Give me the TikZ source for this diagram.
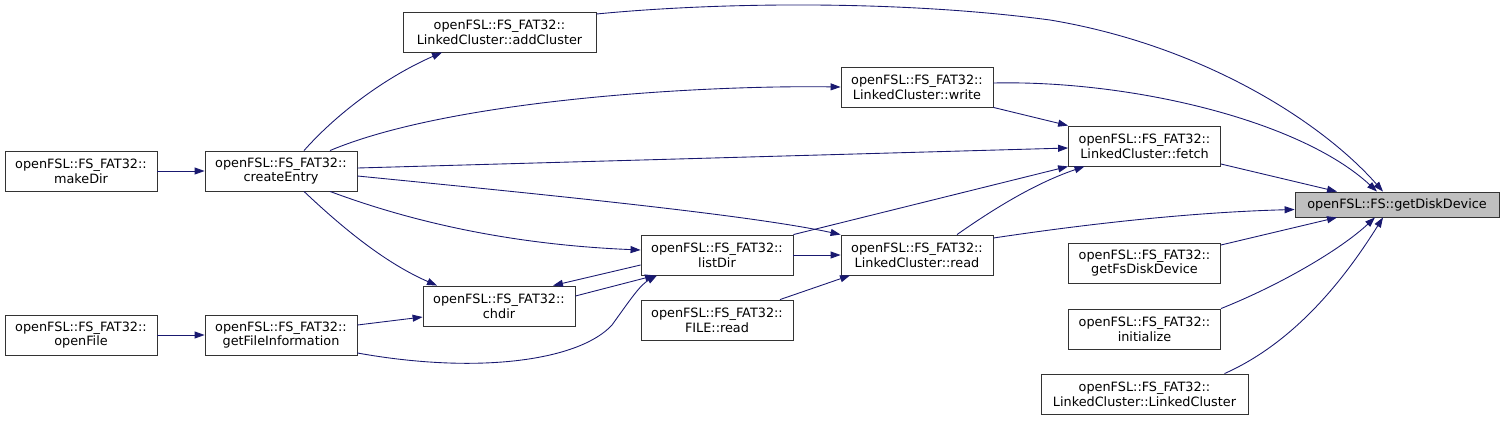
\documentclass[tikz,border=0pt]{standalone}
\usepackage{fontspec}
\setmainfont{DejaVu Sans}
\usepackage{xcolor}
\usetikzlibrary{arrows.meta}
\definecolor{edgeblue}{HTML}{191970}
\definecolor{boxgray}{HTML}{BFBFBF}

\begin{document}
\begin{tikzpicture}[x=0.02cm,y=-0.02cm,
  fn/.style={draw=black!80,fill=white,line width=0.5pt,inner sep=0pt,align=center,
    minimum width=3.04cm,minimum height=0.8cm,font=\fontsize{7.3}{8.4}\selectfont},
  call/.style={edgeblue,line width=0.5pt,-{Triangle[length=0.2cm,width=0.14cm]}}]
\useasboundingbox (0,0) rectangle (1504,420);
% callers, left to right
\node[fn] (makeDir) at (81,171) {openFSL::FS\_FAT32::\\makeDir};
\node[fn] (openFile) at (81,335) {openFSL::FS\_FAT32::\\openFile};
\node[fn] (createEntry) at (281,171) {openFSL::FS\_FAT32::\\createEntry};
\node[fn] (getFileInfo) at (281,335) {openFSL::FS\_FAT32::\\getFileInformation};
\node[fn,minimum width=3.86cm] (addCluster) at (499.5,32) {openFSL::FS\_FAT32::\\LinkedCluster::addCluster};
\node[fn] (chdir) at (499,306) {openFSL::FS\_FAT32::\\chdir};
\node[fn] (listDir) at (717,255) {openFSL::FS\_FAT32::\\listDir};
\node[fn] (fileRead) at (717,320) {openFSL::FS\_FAT32::\\FILE::read};
\node[fn] (lcWrite) at (917,87) {openFSL::FS\_FAT32::\\LinkedCluster::write};
\node[fn] (lcRead) at (917,255) {openFSL::FS\_FAT32::\\LinkedCluster::read};
\node[fn] (lcFetch) at (1144.5,146) {openFSL::FS\_FAT32::\\LinkedCluster::fetch};
\node[fn] (getFsDiskDevice) at (1144.5,263) {openFSL::FS\_FAT32::\\getFsDiskDevice};
\node[fn] (initialize) at (1144.5,329) {openFSL::FS\_FAT32::\\initialize};
\node[fn,minimum width=4.14cm] (lcCtor) at (1144.5,394) {openFSL::FS\_FAT32::\\LinkedCluster::LinkedCluster};
\node[fn,fill=boxgray,minimum width=4.08cm,minimum height=0.5cm] (getDiskDevice) at (1397,204.5) {openFSL::FS::getDiskDevice};

% calls
\draw[call] (makeDir.east) -- (createEntry.west);
\draw[call] (openFile.east) -- (getFileInfo.west);
\draw[call] ([xshift=0.46cm]createEntry.north) .. controls (340,110) and (390,75) .. ([xshift=-1.15cm]addCluster.south);
\draw[call] ([xshift=0.98cm]createEntry.north) .. controls (450,100) and (700,85) .. (lcWrite.west);
\draw[call] ([yshift=0.06cm]createEntry.east) -- ([yshift=-0.04cm]lcFetch.west);
\draw[call] ([yshift=-0.1cm]createEntry.east) .. controls (550,195) and (750,215) .. (lcRead.north west);
\draw[call] ([xshift=0.98cm]createEntry.south) .. controls (420,225) and (520,245) .. ([yshift=0.1cm]listDir.west);
\draw[call] ([xshift=0.46cm]createEntry.south) .. controls (350,235) and (390,265) .. ([xshift=-1.24cm]chdir.north);
\draw[call] ([yshift=0.2cm]getFileInfo.east) -- ([yshift=-0.22cm]chdir.west);
\draw[call] ([yshift=-0.36cm]getFileInfo.east) .. controls (480,375) and (580,360) .. (612,325)
  .. controls (630,300) and (640,285) .. ([xshift=-1.2cm]listDir.south);
\draw[call] ([yshift=0.2cm]chdir.east) -- ([xshift=-1.24cm]listDir.south);
\draw[call] ([yshift=-0.2cm]listDir.west) -- ([xshift=1.08cm]chdir.north);
\draw[call] (listDir.east) -- (lcRead.west);
\draw[call] (listDir.north east) -- (lcFetch.south west);
\draw[call] ([xshift=0.8cm]lcRead.north) .. controls (985,215) and (1030,185) .. ([xshift=-1.2cm]lcFetch.south);
\draw[call] ([xshift=1.26cm]fileRead.north) -- ([xshift=-1.34cm]lcRead.south);
\draw[call] (lcWrite.south east) -- (lcFetch.north west);
\draw[call] ([yshift=0.36cm]addCluster.east) .. controls (720,2) and (900,0) .. (1050,20)
  .. controls (1200,45) and (1320,120) .. ([xshift=-0.28cm]getDiskDevice.north);
\draw[call] ([yshift=0.08cm]lcWrite.east) .. controls (1130,80) and (1300,120) .. ([xshift=-0.4cm]getDiskDevice.north);
\draw[call] ([yshift=-0.36cm]lcFetch.east) -- ([xshift=-1.2cm]getDiskDevice.north);
\draw[call] ([yshift=0.34cm]lcRead.east) .. controls (1100,222) and (1200,212) .. ([yshift=-0.1cm]getDiskDevice.west);
\draw[call] ([yshift=0.36cm]getFsDiskDevice.east) -- ([xshift=-1.2cm]getDiskDevice.south);
\draw[call] (initialize.north east) .. controls (1280,285) and (1340,250) .. ([xshift=-0.44cm]getDiskDevice.south);
\draw[call] ([xshift=1.6cm]lcCtor.north) .. controls (1300,340) and (1350,270) .. ([xshift=-0.28cm]getDiskDevice.south);
\end{tikzpicture}
\end{document}
